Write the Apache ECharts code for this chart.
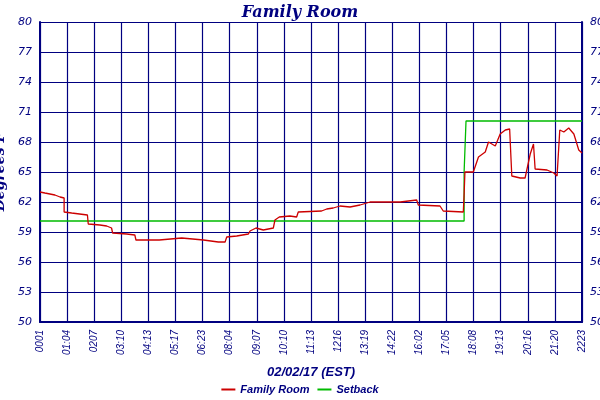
<!DOCTYPE html>
<html><head><meta charset="utf-8">
<script src="https://cdn.jsdelivr.net/npm/echarts@6/dist/echarts.min.js"></script>
<style>html,body{margin:0;padding:0;background:#fff}#c{width:600px;height:400px}</style>
</head><body><div id="c"></div>
<script>
const tickLabels=["0001","01:04","0207","03:10","04:13","05:17","06:23","08:04","09:07","10:10","11:13","1216","13:19","14:22","16:02","17:05","18:08","19:13","20:16","21:20","2223"];
const roomX=[0,0.18,0.18,0.55,0.74,0.89,0.89,1.17,1.75,1.78,2.21,2.46,2.64,2.68,3.2,3.5,3.54,4.4,4.45,5.23,5.26,6.03,6.09,6.58,6.83,6.89,7.26,7.69,7.75,7.97,8.24,8.61,8.67,8.83,9.22,9.47,9.53,10.39,10.58,10.82,11.07,11.44,11.81,12.18,13.29,13.9,13.96,14.76,14.88,15.62,15.65,15.68,15.99,16.18,16.43,16.55,16.8,16.98,17.17,17.33,17.41,17.72,17.9,18.09,18.21,18.27,18.71,18.96,19.08,19.18,19.33,19.51,19.7,19.88,20];
const roomY=[63.0,62.9,62.8,62.7,62.5,62.4,61.0,60.9,60.7,59.8,59.7,59.6,59.4,58.9,58.8,58.7,58.2,58.2,58.4,58.4,58.2,58.2,58.0,58.0,58.0,58.5,58.6,58.8,59.1,59.4,59.2,59.4,60.2,60.5,60.6,60.5,61.0,61.1,61.3,61.4,61.6,61.5,61.7,62.0,62.0,62.2,61.7,61.6,61.1,61.0,62.8,65.0,65.0,66.5,67.0,68.0,67.6,68.8,69.2,69.3,64.6,64.4,64.4,66.8,67.8,65.3,65.2,64.9,64.6,69.2,69.0,69.4,68.8,67.2,66.9];
const setX=[0,15.65,15.65,15.72,15.72,20];
const setY=[60.1,60.1,65,65,70.1,70.1];
const navy='#000080';
const c=echarts.init(document.getElementById('c'));
const ax={type:'value',min:50,max:80,interval:3,axisLine:{show:true,lineStyle:{color:navy,width:2}},axisTick:{show:false},
 axisLabel:{color:navy,fontStyle:'italic',fontSize:11,fontFamily:'DejaVu Sans'},splitLine:{lineStyle:{color:navy,width:1.2}}};
c.setOption({
 backgroundColor:'#fff',animation:false,
 title:{text:'Family Room',left:'center',top:0,textStyle:{color:navy,fontStyle:'italic',fontWeight:'bold',fontSize:16,fontFamily:'DejaVu Serif'}},
 grid:{left:40,right:18,top:22,bottom:78,containLabel:false,outerBoundsMode:'none'},
 legend:{bottom:0,left:'center',itemWidth:14,itemHeight:2,icon:'rect',textStyle:{color:navy,fontStyle:'italic',fontWeight:'bold',fontSize:11},data:['Family Room','Setback']},
 xAxis:{type:'value',min:0,max:20,interval:1,name:'02/02/17 (EST)',nameLocation:'middle',nameGap:44,
  nameTextStyle:{color:navy,fontStyle:'italic',fontWeight:'bold',fontSize:13},
  axisLine:{lineStyle:{color:navy,width:2}},axisTick:{show:false},
  axisLabel:{rotate:90,color:navy,fontStyle:'italic',fontSize:10,formatter:v=>tickLabels[Math.round(v)]||''},
  splitLine:{show:true,lineStyle:{color:navy,width:1.2}}},
 yAxis:[Object.assign({},ax,{position:'left',name:'Degrees F',nameLocation:'middle',nameGap:24,nameTextStyle:{color:navy,fontStyle:'italic',fontWeight:'bold',fontSize:14,fontFamily:'DejaVu Serif'}}),
        Object.assign({},ax,{position:'right',splitLine:{show:false}})],
 series:[
  {name:'Family Room',type:'line',symbol:'none',color:'#cc0000',lineStyle:{width:1.3},data:roomX.map((x,i)=>[x,roomY[i]]),z:3},
  {name:'Setback',type:'line',symbol:'none',color:'#00bb00',lineStyle:{width:1.3},data:setX.map((x,i)=>[x,setY[i]]),z:2}
 ]
});
</script></body></html>
